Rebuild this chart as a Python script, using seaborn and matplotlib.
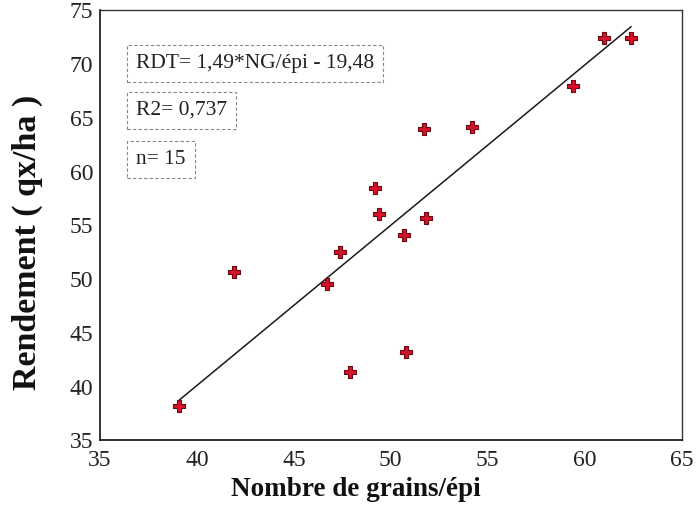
import matplotlib
matplotlib.use("Agg")
import matplotlib.pyplot as plt
import seaborn as sns
import numpy as np
import pandas as pd

# Grains per ear vs. yield, 15 plots
grains = [39.1, 41.9, 46.7, 47.4, 47.9, 49.2, 49.4, 50.7, 50.8, 51.7, 51.8, 54.2, 59.4, 61.0, 62.4]
rendement = [38.2, 50.7, 49.6, 52.5, 41.4, 58.5, 56.1, 54.1, 43.2, 64.0, 55.7, 64.2, 68.0, 72.4, 72.4]

# Fitted relation as reported
slope = 1.49
intercept = -19.48
r2 = 0.737
n_obs = len(grains)

x_ticks = [35, 40, 45, 50, 55, 60, 65]
y_ticks = [35, 40, 45, 50, 55, 60, 65, 70, 75]

sns.set_theme(style="white")
plt.rcParams["font.family"] = ["Liberation Serif", "DejaVu Serif"]

df = pd.DataFrame({"grains": grains, "rendement": rendement})
x_fit = np.array([min(grains), max(grains)])
fit = pd.DataFrame({"grains": x_fit, "rendement": slope * x_fit + intercept})

fig = plt.figure(figsize=(6.96, 5.09), dpi=100)
ax = fig.add_axes([0.1437, 0.1346, 0.8355, 0.8448])

sns.lineplot(data=fit, x="grains", y="rendement", ax=ax, color="#1a1a1a", lw=1.1)
sns.scatterplot(data=df, x="grains", y="rendement", ax=ax, marker="P", s=80,
                color="#d8102a", edgecolor="#6a0a10", linewidth=0.8, zorder=3)

ax.set_xlim(x_ticks[0], x_ticks[-1])
ax.set_ylim(y_ticks[0], y_ticks[-1])
ax.set_xticks(x_ticks)
ax.set_yticks(y_ticks)
ax.tick_params(axis="both", direction="out", length=4, width=1, color="#222",
               labelsize=17, labelcolor="#222")
ax.tick_params(axis="x", pad=3)
ax.tick_params(axis="y", pad=1)

for side in ["left", "bottom"]:
    ax.spines[side].set_color("#111")
    ax.spines[side].set_linewidth(1.2)
for side in ["top", "right"]:
    ax.spines[side].set_color("#333")
    ax.spines[side].set_linewidth(1.0)

ax.set_xlabel("Nombre de grains/épi", fontsize=19.5, fontweight="bold", color="#111")
ax.xaxis.set_label_coords(0.44, -0.085)
ax.set_ylabel("Rendement ( qx/ha )", fontsize=24.5, fontweight="bold", color="#111")
ax.yaxis.set_label_coords(-0.098, 0.46)

box = dict(boxstyle="square,pad=0.42", facecolor="white", edgecolor="#888",
           linestyle=(0, (3, 2)), linewidth=0.8)
txt = dict(transform=ax.transAxes, fontsize=15.5, color="#222", va="baseline", ha="left")
ax.text(0.062, 0.866, f"RDT= {slope:.2f}*NG/épi - {-intercept:.2f}".replace(".", ","),
        bbox=box, **txt)
ax.text(0.062, 0.757, f"R2= {r2:.3f}".replace(".", ","), bbox=box, **txt)
ax.text(0.062, 0.643, f"n= {n_obs}", bbox=box, **txt)

fig.savefig("out.png", dpi=100)
